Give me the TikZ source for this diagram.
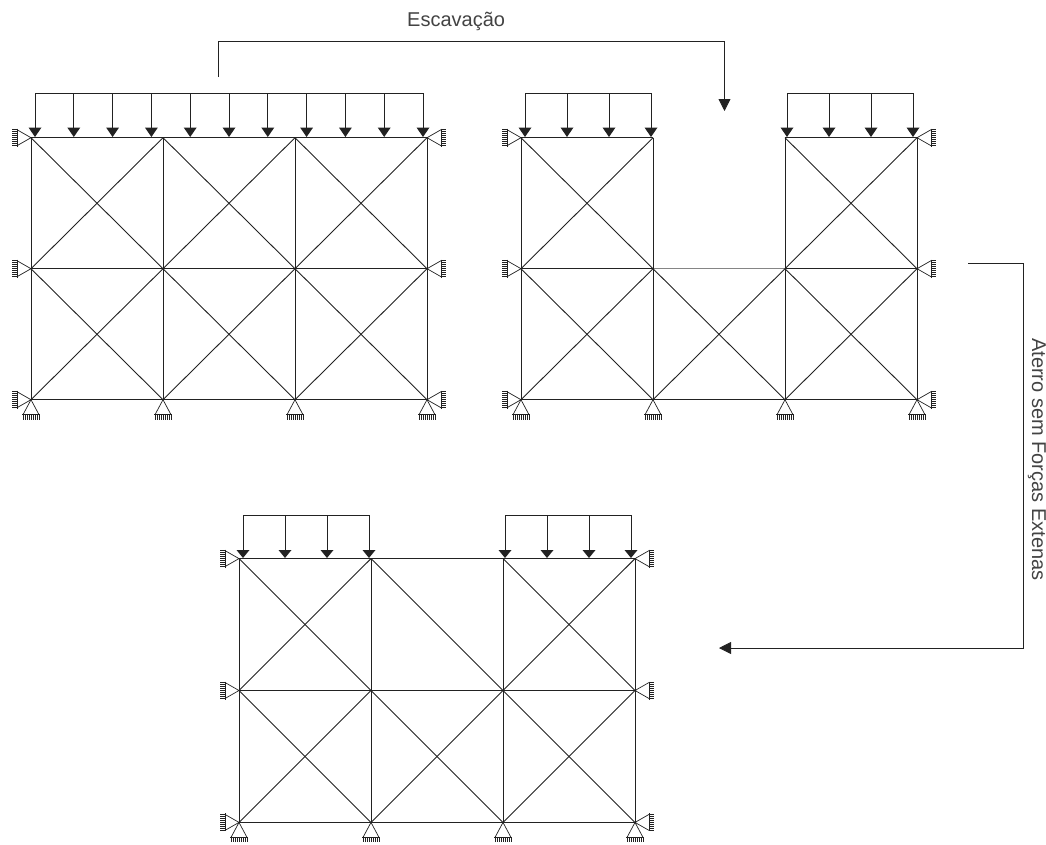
\documentclass[tikz,border=0pt]{standalone}
\usepackage{fontspec}
\setmainfont{Liberation Sans}
\usetikzlibrary{arrows.meta,calc}
\definecolor{ink}{HTML}{222222}
\tikzset{
  x=1pt,y=-1pt,
  member/.style={draw=ink,line width=0.9pt},
  lightmember/.style={draw=ink!55,line width=0.9pt},
  loadline/.style={draw=ink,line width=0.9pt},
  routeline/.style={draw=ink,line width=0.8pt,-{Stealth[length=12pt,width=12pt,inset=0pt]}},
  label/.style={font=\fontsize{20}{22}\selectfont,text=ink!85,inner sep=0pt},
  sup/.style={draw=ink,line width=0.7pt},
  hatch/.style={draw=ink,line width=0.6pt},
  loadhead/.style={fill=ink,draw=none},
}
% side support at joint #1, #2 = +1 left, -1 right
\newcommand{\sidesup}[2]{%
  \draw[sup] ($(#1)+(#2*-14,-8)$) -- (#1) -- ($(#1)+(#2*-14,8)$);
  \draw[hatch] ($(#1)+(#2*-14,-9)$) -- ($(#1)+(#2*-14,9)$);
  \foreach \k in {-8,-6,...,8}{\draw[hatch] ($(#1)+(#2*-14,\k)$) -- ($(#1)+(#2*-19,\k)$);}
}
\newcommand{\botsup}[1]{%
  \draw[sup] ($(#1)+(-8,15)$) -- (#1) -- ($(#1)+(8,15)$);
  \draw[hatch] ($(#1)+(-9,15)$) -- ($(#1)+(9,15)$);
  \foreach \k in {-8,-6,...,8}{\draw[hatch] ($(#1)+(\k,15)$) -- ($(#1)+(\k,20)$);}
}
% frame: prefix, x0, y0, row spacing -> joints prefix-c-r
\newcommand{\joints}[4]{%
  \foreach \c in {0,1,2,3}{\foreach \r in {0,1,2}{%
    \coordinate (#1-\c-\r) at ({#2+132*\c},{#3+#4*\r});}}%
}
\newcommand{\panelX}[3]{% prefix, col, row
  \pgfmathtruncatemacro{\cn}{#2+1}\pgfmathtruncatemacro{\rn}{#3+1}%
  \draw[member] (#1-#2-#3) -- (#1-\cn-\rn);
  \draw[member] (#1-\cn-#3) -- (#1-#2-\rn);
}
\newcommand{\supports}[1]{%
  \foreach \r in {0,1,2}{\sidesup{#1-0-\r}{1}\sidesup{#1-3-\r}{-1}}%
  \foreach \c in {0,1,2,3}{\botsup{#1-\c-2}}%
}
\newcommand{\loads}[4]{%
  \coordinate (#1-a) at (#2,#4); \coordinate (#1-b) at (#3,#4);
  \draw[loadline] (#1-a) -- (#1-b);
}
\newcommand{\loadarrow}[4]{% x, ytop, ytip, head height
  \draw[loadline] (#1,#2) -- (#1,#3-5);
  \fill[loadhead] (#1-6.5,#3-#4) -- (#1+6.5,#3-#4) -- (#1,#3) -- cycle;
}
\begin{document}
\begin{tikzpicture}
\useasboundingbox (0,0) rectangle (1046,844);
% frame A
\joints{A}{31}{137.7}{131}
\foreach \r in {0,1,2}{\draw[member] (A-0-\r) -- (A-3-\r);}
\foreach \c in {0,1,2,3}{\draw[member] (A-\c-0) -- (A-\c-2);}
\foreach \c in {0,1,2}{\foreach \r in {0,1}{\panelX{A}{\c}{\r}}}
\supports{A}
\loads{LA}{35}{423}{93}
\foreach \x in {35,73.8,...,424}{\loadarrow{\x}{93}{137}{9.5}}
% frame B
\joints{B}{521}{137.7}{131}
\draw[member] (B-0-0) -- (B-1-0);
\draw[member] (B-2-0) -- (B-3-0);
\draw[member] (B-0-1) -- (B-1-1);
\draw[lightmember] (B-1-1) -- (B-2-1);
\draw[member] (B-2-1) -- (B-3-1);
\draw[member] (B-0-2) -- (B-3-2);
\draw[member] (B-0-0) -- (B-0-2);
\draw[member] (B-1-0) -- (B-1-2);
\draw[member] (B-2-0) -- (B-2-2);
\draw[member] (B-3-0) -- (B-3-2);
\panelX{B}{0}{0}\panelX{B}{2}{0}
\panelX{B}{0}{1}\panelX{B}{1}{1}\panelX{B}{2}{1}
\supports{B}
\loads{LB}{525}{651}{93}
\foreach \x in {525,567,609,651}{\loadarrow{\x}{93}{137}{9.5}}
\loads{LC}{787}{913}{93}
\foreach \x in {787,829,871,913}{\loadarrow{\x}{93}{137}{9.5}}
% frame C
\joints{C}{239}{558.6}{131.9}
\foreach \r in {0,1,2}{\draw[member] (C-0-\r) -- (C-3-\r);}
\foreach \c in {0,1,2,3}{\draw[member] (C-\c-0) -- (C-\c-2);}
\panelX{C}{0}{0}\panelX{C}{2}{0}
\draw[member] (C-1-0) -- (C-2-1);
\panelX{C}{0}{1}\panelX{C}{1}{1}\panelX{C}{2}{1}
\supports{C}
\loads{LD}{243}{369}{515}
\foreach \x in {243,285,327,369}{\loadarrow{\x}{515}{558}{8}}
\loads{LE}{505}{631}{515}
\foreach \x in {505,547,589,631}{\loadarrow{\x}{515}{558}{8}}
% routes
\coordinate (r1a) at (218,77);\coordinate (r1b) at (218,41);\coordinate (r1c) at (724.5,41);\coordinate (r1d) at (724.5,111);
\draw[routeline] (r1a) -- (r1b) -- (r1c) -- (r1d);
\coordinate (r2a) at (968,263.5);\coordinate (r2b) at (1023.5,263.5);\coordinate (r2c) at (1023.5,648);\coordinate (r2d) at (719,648);
\draw[routeline] (r2a) -- (r2b) -- (r2c) -- (r2d);
\node[label,anchor=base west] (t1) at (407,26) {Escavação};
\node[label,rotate=-90,anchor=base west] (t2) at (1032,338) {Aterro sem Forças Extenas};
\end{tikzpicture}
\end{document}
